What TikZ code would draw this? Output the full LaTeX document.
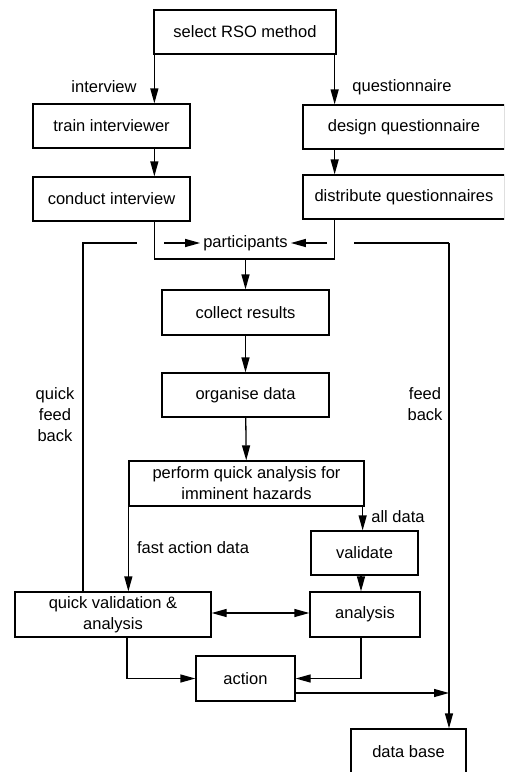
\documentclass[tikz,border=0pt]{standalone}
\usepackage{fontspec}
\setmainfont{Liberation Sans}
\usetikzlibrary{arrows.meta,positioning}

\tikzset{
  box/.style={draw, line width=1.3pt, rectangle, minimum height=44pt, inner sep=0pt, align=center},
  lbl/.style={inner sep=0pt, align=center},
  line/.style={line width=1.3pt},
  tip/.tip={Triangle[length=15pt,width=8pt]},
  arr/.style={line, -tip},
  darr/.style={line, tip-tip},
}

\begin{document}
\begin{tikzpicture}[x=1pt, y=-1pt, font=\fontsize{16.5}{21}\selectfont]
\useasboundingbox (0,0) rectangle (504,772);
\clip (0,0) rectangle (504,772);

% process boxes
\node[box, minimum width=182pt] (sel)      at (245,32)    {select RSO method};
\node[box, minimum width=157pt] (train)    at (111.5,126) {train interviewer};
\node[box, minimum width=202pt] (design)   at (404,127)   {design questionnaire};
\node[box, minimum width=157pt] (conduct)  at (111.5,199) {conduct interview};
\node[box, minimum width=202pt] (distrib)  at (404,197)   {distribute questionnaires};
\node[inner sep=3pt]            (part)     at (245.5,243) {participants};
\node[box, minimum width=167pt, minimum height=45pt] (collect)  at (245.5,312.5) {collect results};
\node[box, minimum width=167pt] (organise) at (245.5,395) {organise data};
\node[box, minimum width=235pt, minimum height=45pt] (perform)  at (246.5,483.5) {perform quick analysis for\\imminent hazards};
\node[box, minimum width=107pt] (validate) at (364.5,553) {validate};
\node[box, minimum width=196pt, minimum height=45pt] (quick)    at (113,614.5) {quick validation \&\\analysis};
\node[box, minimum width=110pt, minimum height=45pt] (analysis) at (365,614.5) {analysis};
\node[box, minimum width=99pt,  minimum height=45pt] (action)   at (245.5,678.5) {action};
\node[box, minimum width=115pt, minimum height=45pt] (dbase)    at (408.5,751.5) {data base};

% labels
\node[lbl] (lint)   at (104,87)  {interview};
\node[lbl] (lqst)   at (402,87)  {questionnaire};
\node[lbl] (lall)   at (398,517) {all data};
\node[lbl] (lfast)  at (193,548) {fast action data};
\node[lbl] (lqfb)   at (55,415)  {quick\\feed\\back};
\node[lbl] (lfb)    at (425,404) {feed\\back};

% column coordinates
\coordinate (lcol) at ([xshift=1pt]sel.south west);
\coordinate (rcol) at ([xshift=-2pt]sel.south east);
\coordinate (ubot) at (0,259);
\coordinate (fbx)  at (449,243);
\coordinate (qfx)  at (83,243);

% two branches from the method choice
\draw[arr] (lcol) -- (lcol |- train.north);
\draw[arr] (rcol) -- (rcol |- design.north);
\draw[arr] (lcol |- train.south) -- (lcol |- conduct.north);
\draw[arr] (rcol |- design.south) -- (rcol |- distrib.north);

% branches join below the participants
\draw[line] (lcol |- conduct.south) -- (lcol |- ubot) -- (rcol |- ubot) -- (rcol |- distrib.south);
\draw[arr] (collect.north |- ubot) -- (collect.north);

% main chain
\draw[arr] (collect) -- (organise);
\draw[arr] (organise) -- (perform);
\draw[arr] (perform.south west) -- (perform.south west |- quick.north);
\draw[arr] ([xshift=-2pt]perform.south east) -- ([xshift=-2pt]perform.south east |- validate.north);
\draw[arr] ([xshift=-3.5pt]validate.south) -- ([xshift=-3.5pt]validate.south |- analysis.north);
\draw[darr] (quick.east |- 0,613) -- (analysis.west |- 0,613);
\draw[arr] ([xshift=14pt]quick.south) |- (action.west);
\draw[arr] ([xshift=-4pt]analysis.south) |- (action.east);
\draw[arr] ([yshift=-14.5pt]action.east) -- (fbx |- 0,693);

% feedback loops
\draw[line] (quick.north -| qfx) -- (qfx) -- (137,243);
\draw[arr] (164,243) -- (part.west);
\draw[arr] (327,243) -- (part.east);
\draw[line] (354,243) -- (fbx);
\draw[arr] (fbx) -- (fbx |- dbase.north);
\end{tikzpicture}
\end{document}
